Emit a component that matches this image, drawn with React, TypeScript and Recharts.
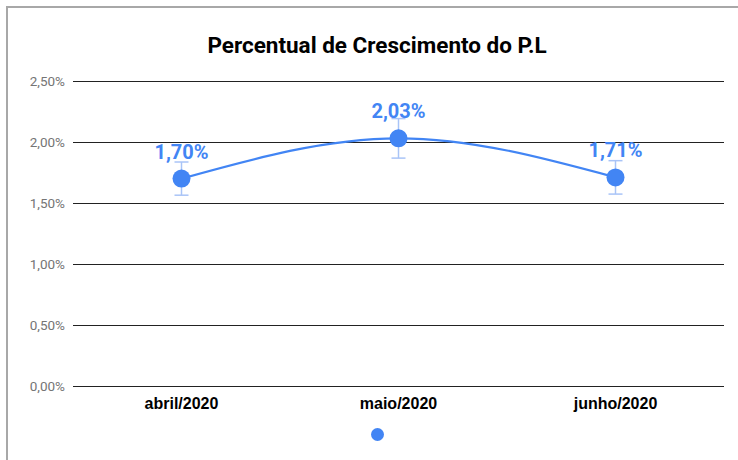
import { CartesianGrid, ErrorBar, LabelList, Legend, Line, LineChart, XAxis, YAxis } from "recharts";

const BLUE = "#4285f4";

const meses = ["abril/2020", "maio/2020", "junho/2020"];
const crescimento = [1.7, 2.03, 1.71];
const erro = [0.136, 0.162, 0.137];
const yTicks = [0, 0.5, 1, 1.5, 2, 2.5];

const data = meses.map((mes, i) => ({ mes, valor: crescimento[i], erro: erro[i] }));

const pct = (v: number) => `${v.toFixed(2).replace(".", ",")}%`;

function LegendDot() {
  return (
    <div style={{ position: "relative", height: 30 }}>
      <span
        style={{
          position: "absolute",
          left: 370.5,
          top: 11.5,
          width: 13,
          height: 13,
          borderRadius: "50%",
          background: BLUE,
        }}
      />
    </div>
  );
}

export default function App() {
  return (
    <div style={{ position: "absolute", left: 0, top: 0, width: 738, height: 460, overflow: "hidden", background: "#fff" }}>
      <div
        style={{
          position: "absolute",
          left: 6,
          top: 6,
          width: 800,
          height: 500,
          borderTop: "2px solid #a8a8a8",
          borderLeft: "2px solid #a8a8a8",
        }}
      />
      <svg style={{ position: "absolute", left: 0, top: 0 }} width={738} height={70}>
        <text
          x={377}
          y={53}
          textAnchor="middle"
          fontFamily="Roboto"
          fontWeight="bold"
          fontSize={22.5}
          fill="#000"
        >
          Percentual de Crescimento do P.L
        </text>
      </svg>
      <div style={{ position: "absolute", left: 0, top: 0 }}>
        <LineChart width={738} height={460} data={data} margin={{ top: 81, right: 14, bottom: 14, left: 0 }}>
          <CartesianGrid vertical={false} stroke="#222" strokeWidth={1} shapeRendering="crispEdges" />
          <XAxis
            dataKey="mes"
            axisLine={false}
            tickLine={false}
            height={30}
            tickMargin={6}
            padding={{ left: 108.5, right: 108.5 }}
            tick={{ fill: "#000", fontSize: 16, fontWeight: "bold", fontFamily: "Liberation Sans" }}
          />
          <YAxis
            width={73}
            domain={[0, 2.5]}
            ticks={yTicks}
            axisLine={false}
            tickLine={false}
            tickFormatter={pct}
            tick={{ fill: "#757575", fontSize: 13.5, fontFamily: "Roboto" }}
          />
          <Legend verticalAlign="bottom" content={() => <LegendDot />} />
          <Line
            type="monotone"
            dataKey="valor"
            stroke={BLUE}
            strokeWidth={2.2}
            dot={{ r: 9, fill: BLUE, stroke: "none" }}
            activeDot={false}
            isAnimationActive={false}
          >
            <ErrorBar dataKey="erro" direction="y" width={7} stroke="#a9c4f7" strokeWidth={1.5} />
            <LabelList
              dataKey="valor"
              position="top"
              offset={20}
              formatter={(v: any) => pct(Number(v))}
              style={{ fill: BLUE, fontSize: 20, fontWeight: "bold", fontFamily: "Roboto" }}
            />
          </Line>
        </LineChart>
      </div>
    </div>
  );
}
